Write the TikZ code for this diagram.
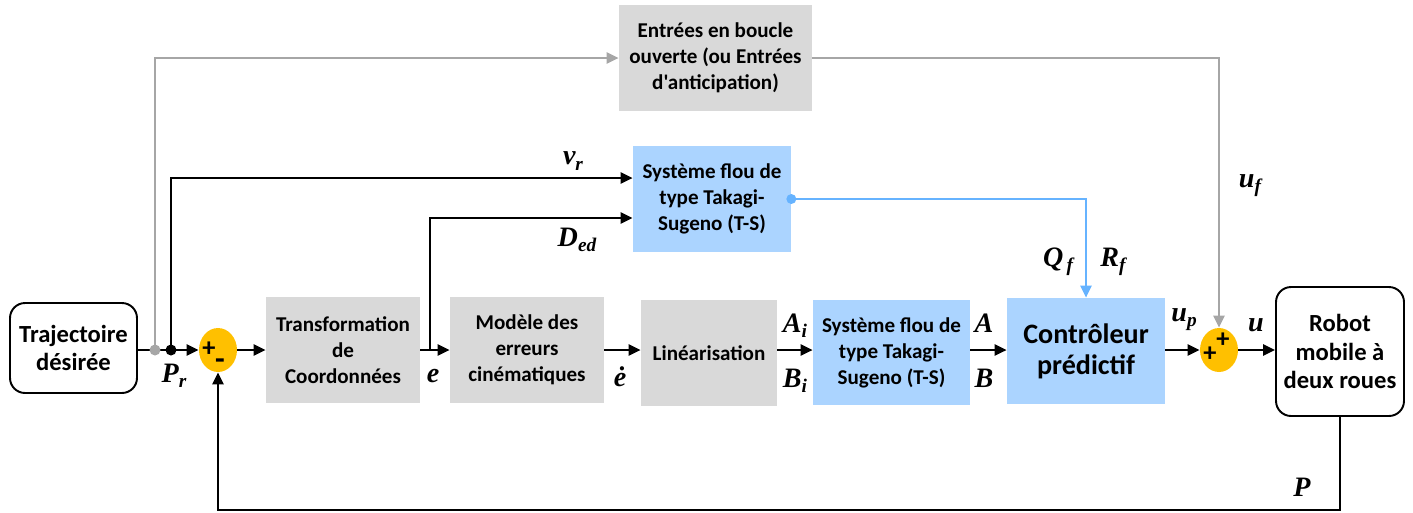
\documentclass[tikz,border=0pt]{standalone}
\usepackage{fontspec}
\setmainfont{Carlito}[Ligatures=TeXOff]
\newfontfamily\labfont{Liberation Serif}
\usetikzlibrary{arrows.meta,shapes.geometric}

\definecolor{boxgray}{HTML}{D9D9D9}
\definecolor{boxblue}{HTML}{ABD4FF}
\definecolor{sumorange}{HTML}{FFC000}
\definecolor{linegray}{HTML}{A6A6A6}
\definecolor{lineblue}{HTML}{66B3FF}

% signal label: bold italic serif letter with a lowered subscript
\newcommand{\siglab}[2]{{\labfont\bfseries\itshape\fontsize{16}{16}\selectfont #1\raisebox{-0.4ex}{\fontsize{11}{11}\selectfont #2}}}

\tikzset{
  txt/.style={font=\bfseries\fontsize{12}{14.8}\selectfont, align=center, inner sep=0pt},
  gbox/.style={txt, fill=boxgray},
  bbox/.style={txt, fill=boxblue},
  rbox/.style={txt, font=\bfseries\fontsize{14}{16.2}\selectfont, draw=black, line width=1.1pt, rounded corners=0.3cm, fill=white},
  sumnode/.style={ellipse, fill=sumorange, minimum width=0.76cm, minimum height=0.88cm, inner sep=0pt},
  sign/.style={font=\bfseries\fontsize{15}{15}\selectfont, inner sep=0pt},
  tip/.style={-{Triangle[length=0.24cm,width=0.22cm]}},
  blk/.style={draw=black, line width=1.4pt, tip},
  gry/.style={draw=linegray, line width=1.4pt, tip, color=linegray},
  blu/.style={draw=lineblue, line width=1.4pt, tip, color=lineblue},
  lab/.style={inner sep=0pt}
}

\begin{document}
\begin{tikzpicture}[x=0.02cm, y=-0.02cm]
\useasboundingbox (0,0) rectangle (1413,512);

% blocks
\node[rbox, minimum width=2.54cm, minimum height=1.80cm] (traj) at (73.5,348) {Trajectoire\\désirée};
\node[sumnode] (s1) at (218,350) {};
\node[gbox, minimum width=3.08cm, minimum height=2.12cm] (trans) at (343,350) {Transformation\\de\\Coordonnées};
\node[gbox, minimum width=3.08cm, minimum height=2.12cm] (mod) at (527,350) {Modèle des\\erreurs\\cinématiques};
\node[gbox, minimum width=2.72cm, minimum height=2.12cm] (lin) at (709,353) {Linéarisation};
\node[bbox, minimum width=3.14cm, minimum height=2.10cm] (tsl) at (891.5,352.5) {Système flou de\\type Takagi-\\Sugeno (T-S)};
\node[bbox, minimum width=3.16cm, minimum height=2.12cm, font=\bfseries\fontsize{16}{17.5}\selectfont] (ctrl) at (1086,351) {Contrôleur\\prédictif};
\node[sumnode] (s2) at (1219,350) {};
\node[rbox, minimum width=2.56cm, minimum height=2.58cm] (robot) at (1340,351.5) {Robot\\mobile à\\deux roues};
\node[gbox, minimum width=3.86cm, minimum height=2.12cm] (open) at (715.5,58) {Entrées en boucle\\ouverte (ou Entrées\\d'anticipation)};
\node[bbox, minimum width=3.16cm, minimum height=2.12cm] (tsu) at (712,199) {Système flou de\\type Takagi-\\Sugeno (T-S)};

% signs in the summing junctions
\node[sign] (s1p) at (209,349) {+};
\node[sign, font=\bfseries\fontsize{18}{18}\selectfont] (s1m) at (220,364) {-};
\node[sign] (s2p) at (1210,354) {+};
\node[sign] (s2q) at (1223,340) {+};

% branch points
\coordinate (gdot) at (155,350);
\coordinate (bdot) at (171,350);
\coordinate (ebr) at (430,350);
\coordinate (fbcorner) at (1340,510);

% open-loop (feedforward) path
\draw[gry] (gdot) |- (open.west);
\draw[gry] (open.east) -| (s2.north);

% inputs of the upper T-S system
\draw[blk] (bdot) |- ([yshift=0.42cm]tsu.west);
\draw[blk] (ebr) |- ([yshift=-0.38cm]tsu.west);
\draw[blu] (tsu.east) -| (ctrl.north);

% main chain
\draw[blk] (traj.east |- s1) -- (s1.west);
\draw[blk] (s1.east) -- (trans.west);
\draw[blk] (trans.east) -- (mod.west);
\draw[blk] (mod.east) -- (lin.west |- mod.east);
\draw[blk] (lin.east |- mod.east) -- (tsl.west |- mod.east);
\draw[blk] (tsl.east |- mod.east) -- (ctrl.west |- mod.east);
\draw[blk] (ctrl.east |- s2) -- (s2.west);
\draw[blk] (s2.east) -- (robot.west |- s2);

% feedback
\draw[blk] (robot.south) -- (fbcorner) -| (s1.south);

% dots
\fill[linegray] (gdot) circle (0.11cm);
\fill[black] (bdot) circle (0.11cm);
\fill[lineblue] (tsu.east) circle (0.1cm);

% signal labels
\node[lab] (lPr) at (174,376) {\siglab{P}{r}};
\node[lab] (lvr) at (573,161) {\siglab{v}{r}};
\node[lab] (lDed) at (577,240) {\siglab{D}{ed}};
\node[lab] (le) at (433,378) {\siglab{e}{}};
\node[lab] (led) at (620,379) {\siglab{ė}{}};
\node[lab] (lAi) at (795,326) {\siglab{A}{i}};
\node[lab] (lBi) at (795,381) {\siglab{B}{i}};
\node[lab] (lA) at (984,326) {\siglab{A}{}};
\node[lab] (lB) at (984,381) {\siglab{B}{}};
\node[lab] (lQf) at (1058,262) {\siglab{Q}{\,f}};
\node[lab] (lRf) at (1113,262) {\siglab{R}{f}};
\node[lab] (luf) at (1250,186) {\siglab{u}{f}};
\node[lab] (lup) at (1184,320) {\siglab{u}{p}};
\node[lab] (lu) at (1256,328) {\siglab{u}{}};
\node[lab] (lP) at (1302,490) {\siglab{P}{}};
\end{tikzpicture}
\end{document}
